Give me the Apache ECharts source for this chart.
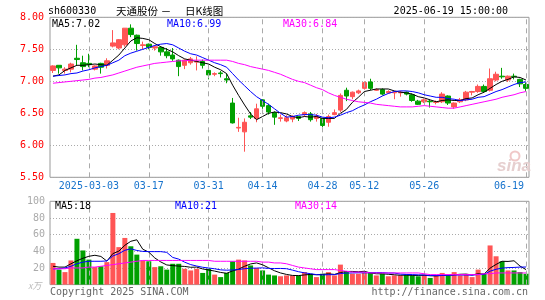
<!DOCTYPE html>
<html><head><meta charset="utf-8">
<script src="https://cdn.jsdelivr.net/npm/echarts@6.0.0/dist/echarts.min.js"></script>
<style>html,body{margin:0;padding:0;background:#fff}#c{width:545px;height:300px}</style>
</head><body><div id="c"></div>
<script>
const dates = ['2025-02-21','2025-02-24','2025-02-25','2025-02-26','2025-02-27','2025-02-28','2025-03-03','2025-03-04','2025-03-05','2025-03-06','2025-03-07','2025-03-10','2025-03-11','2025-03-12','2025-03-13','2025-03-14','2025-03-17','2025-03-18','2025-03-19','2025-03-20','2025-03-21','2025-03-24','2025-03-25','2025-03-26','2025-03-27','2025-03-28','2025-03-31','2025-04-01','2025-04-02','2025-04-03','2025-04-07','2025-04-08','2025-04-09','2025-04-10','2025-04-11','2025-04-14','2025-04-15','2025-04-16','2025-04-17','2025-04-18','2025-04-21','2025-04-22','2025-04-23','2025-04-24','2025-04-25','2025-04-28','2025-04-29','2025-04-30','2025-05-06','2025-05-07','2025-05-08','2025-05-09','2025-05-12','2025-05-13','2025-05-14','2025-05-15','2025-05-16','2025-05-19','2025-05-20','2025-05-21','2025-05-22','2025-05-23','2025-05-26','2025-05-27','2025-05-28','2025-05-29','2025-05-30','2025-06-03','2025-06-04','2025-06-05','2025-06-06','2025-06-09','2025-06-10','2025-06-11','2025-06-12','2025-06-13','2025-06-16','2025-06-17','2025-06-18','2025-06-19'];

const opens  = [7.17,7.25,7.17,7.19,7.36,7.29,7.28,7.19,7.28,7.25, 7.55,7.52,7.57,7.83,7.72,7.56,7.58,7.52,7.53,7.46, 7.41,7.33,7.25,7.29,7.30,7.31,7.17,7.11,7.13,7.04, 6.66,6.27,6.21,6.46,6.42,6.71,6.62,6.51,6.42,6.38, 6.41,6.45,6.48,6.49,6.42,6.42,6.36,6.48,6.55,6.86, 6.76,6.82,6.89,6.99,6.86,6.87,6.82,6.82,6.82,6.83, 6.79,6.69,6.68,6.69,6.67,6.68,6.77,6.60,6.68,6.71, 6.83,6.84,6.92,6.86,7.02,7.08,7.02,7.08,7.03,6.95];
const closes = [7.24,7.21,7.19,7.27,7.34,7.23,7.26,7.24,7.22,7.32, 7.60,7.65,7.83,7.73,7.59,7.57,7.53,7.54,7.46,7.40, 7.35,7.23,7.33,7.35,7.31,7.25,7.10,7.12,7.12,7.02, 6.35,6.28,6.36,6.44,6.57,6.61,6.52,6.44,6.43,6.43, 6.45,6.42,6.51,6.40,6.45,6.31,6.45,6.51,6.78,6.77, 6.83,6.85,6.98,6.89,6.87,6.80,6.84,6.83,6.83,6.80, 6.70,6.64,6.71,6.68,6.68,6.80,6.66,6.66,6.71,6.83, 6.84,6.92,6.84,7.04,7.11,7.07,7.08,7.07,6.96,6.89];
const lows   = [7.13,7.12,7.12,7.14,7.25,7.17,7.22,7.17,7.12,7.20, 7.53,7.50,7.54,7.69,7.48,7.50,7.50,7.48,7.40,7.36, 7.32,7.08,7.19,7.26,7.17,7.20,7.03,7.08,7.06,6.97, 6.34,6.21,5.90,6.41,6.36,6.57,6.48,6.32,6.37,6.36, 6.36,6.38,6.45,6.37,6.37,6.28,6.29,6.47,6.52,6.69, 6.72,6.80,6.87,6.86,6.85,6.78,6.81,6.72,6.76,6.78, 6.68,6.63,6.66,6.59,6.64,6.66,6.63,6.57,6.66,6.69, 6.78,6.82,6.82,6.84,7.00,7.04,6.99,7.03,6.91,6.85];
const highs  = [7.25,7.25,7.22,7.29,7.57,7.40,7.43,7.25,7.29,7.36, 7.80,7.66,7.83,7.89,7.73,7.62,7.59,7.56,7.55,7.52, 7.52,7.34,7.34,7.38,7.39,7.34,7.18,7.14,7.16,7.12, 6.74,6.43,6.42,6.52,6.65,6.72,6.65,6.53,6.48,6.47, 6.47,6.46,6.53,6.52,6.49,6.43,6.48,6.56,6.81,6.90, 6.84,6.87,7.00,7.04,6.89,6.89,6.86,6.84,6.85,6.84, 6.81,6.71,6.73,6.71,6.70,6.83,6.78,6.67,6.74,6.85, 6.85,6.95,6.95,7.20,7.15,7.21,7.09,7.12,7.04,6.98];

const ma5  = [7.08,7.10,7.17,7.21,7.25,7.25,7.26,7.27,7.26,7.25, 7.33,7.41,7.52,7.63,7.68,7.67,7.65,7.59,7.54,7.50, 7.46,7.40,7.35,7.33,7.31,7.29,7.27,7.22,7.18,7.12, 6.94,6.78,6.63,6.49,6.40,6.45,6.50,6.52,6.51,6.49, 6.45,6.43,6.45,6.44,6.45,6.42,6.42,6.42,6.50,6.56, 6.67,6.75,6.84,6.86,6.88,6.88,6.88,6.85,6.83,6.82, 6.80,6.76,6.74,6.71,6.68,6.70,6.71,6.70,6.70,6.73, 6.74,6.79,6.83,6.89,6.95,7.00,7.03,7.07,7.06,7.02];
const ma10 = [7.08,7.09,7.10,7.12,7.13,7.16,7.18,7.21,7.23,7.25, 7.29,7.33,7.40,7.44,7.47,7.50,7.53,7.56,7.58,7.59, 7.57,7.52,7.47,7.43,7.41,7.37,7.33,7.29,7.26,7.22, 7.12,7.02,6.93,6.84,6.76,6.70,6.64,6.57,6.50,6.44, 6.45,6.47,6.48,6.48,6.47,6.44,6.43,6.44,6.47,6.51, 6.54,6.59,6.63,6.68,6.72,6.77,6.81,6.84,6.85,6.85, 6.84,6.82,6.79,6.77,6.75,6.75,6.73,6.72,6.70,6.71, 6.72,6.75,6.76,6.80,6.84,6.87,6.91,6.95,6.98,6.99];
const ma30 = [6.97,6.98,6.99,7.00,7.01,7.02,7.03,7.05,7.06,7.08, 7.10,7.13,7.16,7.19,7.22,7.24,7.26,7.28,7.29,7.30, 7.31,7.32,7.32,7.33,7.33,7.33,7.33,7.33,7.33,7.33, 7.31,7.28,7.26,7.23,7.21,7.19,7.17,7.14,7.11,7.07, 7.03,7.00,6.98,6.94,6.90,6.87,6.82,6.78,6.75,6.72, 6.70,6.68,6.67,6.66,6.64,6.63,6.62,6.61,6.60,6.60, 6.60,6.61,6.62,6.61,6.60,6.59,6.58,6.58,6.60,6.62, 6.64,6.66,6.68,6.70,6.72,6.75,6.77,6.79,6.82,6.84];

const volumes = [26,18,15,29,55,41,30,21,22,27, 86,45,56,46,36,29,28,21,22,18, 25,25,19,17,19,14,19,12,9,14, 28,30,29,23,20,17,12,11,10,11, 11,11,15,13,9,13,15,11,24,16, 13,13,14,14,11,13,10,11,11,12, 11,10,12,8,11,14,11,15,11,12, 9,18,13,47,34,28,17,17,15,13];
const volMa5  = [22,21,21,25,28.6,31.6,34,35.2,33.8,28.2, 37.2,40.2,47.2,52,53.8,42.4,39,32,27.2,23.6, 22.8,22.2,21.8,20.8,21,18.8,17.6,16.2,14.6,13.6, 16.4,18.6,22,24.8,26,23.8,20.2,16.6,14,12.2, 11,10.8,11.6,12.2,11.8,12.2,13,12.2,14.4,15.8, 15.8,15.4,16,14,13,13,12.4,11.8,11.2,11.4, 11,11,11.2,10.6,10.4,11,11.2,11.8,12.4,12.6, 11.6,13,12.6,19.8,24.2,28,27.8,28.6,22.2,18];
const volMa10 = [19,19,20,22,25,27,28,28,28,28.4, 34.4,37.1,41.2,42.9,41,39.8,39.6,39.6,39.6,38.7, 32.6,30.6,26.9,24,22.3,20.8,19.9,19,17.7,17.3, 17.6,18.1,19.1,19.7,19.8,20.1,19.4,19.3,19.4,19.1, 17.4,15.5,14.1,13.1,12,11.6,11.9,11.9,13.3,13.8, 14,14.2,14.1,14.2,14.4,14.4,13.9,13.9,12.6,12.2, 12,11.7,11.5,10.9,10.9,11,11.1,11.5,11.5,11.5, 11.3,12.1,12.2,16.1,18.4,19.8,20.4,20.6,21,21.1];
const volMa30 = [19,19,19,20,20,20,21,21,22,23, 24,25,26,27,28,29,29,29,29,29, 29,29,29,29,29,29,29,28,28,28, 28,28,28,28,28,27,27,26,26,25, 23,21,20,19,18,18,18,18,17,16, 15,15,15,14,14,14,14,14,14,14, 14,14,13,12,12,12,12,12,12,12, 12,12,13,13,14,14,14,14,14,14];

const tickDates  = ['2025-03-03','2025-03-17','2025-03-31','2025-04-14','2025-04-28','2025-05-12','2025-05-26','2025-06-19'];
const tickLabels = ['2025-03-03','03-17','03-31','04-14','04-28','05-12','05-26','06-19'];
const priceTickLabels = ['5.50','6.00','6.50','7.00','7.50','8.00'];
const volTickLabels = ['', '20', '40', '60', '80', '100'];

const stockCode = 'sh600330';
const stockName = '天通股份';
const chartName = '日K线图';
const stamp = '2025-06-19 15:00:00';
const priceMaText = ['MA5:7.02', 'MA10:6.99', 'MA30:6.84'];
const volMaText = ['MA5:18', 'MA10:21', 'MA30:14'];

const RED = '#ff5555', GREEN = '#00a000';
const MONO = 'DejaVu Sans Mono';
const tickIdx = tickDates.map(d => dates.indexOf(d));

const chart = echarts.init(document.getElementById('c'));

const vline = {
  symbol: 'none', silent: true, animation: false,
  label: {show: false},
  lineStyle: {type: [5, 4], color: '#aaa', width: 1},
  data: tickDates.map(d => ({xAxis: d}))
};
function lineSeries(data, color, xi, yi) {
  return {type: 'line', data, xAxisIndex: xi, yAxisIndex: yi, showSymbol: false, symbol: 'none',
    lineStyle: {width: 1, color}, itemStyle: {color}, silent: true, animation: false, z: 5};
}
function txt(x, y, text, fill, align, font) {
  return {type: 'text', x, y, silent: true, z: 100,
    style: {text, fill, font: font || ('10px ' + MONO), textAlign: align || 'left', textVerticalAlign: 'middle'}};
}

chart.setOption({
  animation: false,
  backgroundColor: '#fff',
  grid: [
    {left: 50, top: 17.3, width: 479, height: 160, show: true, borderColor: '#999', borderWidth: 1},
    {left: 50, top: 201.3, width: 479, height: 83.3, show: true, borderColor: '#999', borderWidth: 1}
  ],
  xAxis: [
    {type: 'category', gridIndex: 0, data: dates, boundaryGap: true,
     axisLine: {show: false}, axisTick: {show: false}, splitLine: {show: false},
     axisLabel: {
       interval: (i) => tickIdx.indexOf(i) >= 0,
       formatter: (v) => {
         const k = tickDates.indexOf(v);
         if (k < 0) return '';
         return k === tickDates.length - 1 ? '{r|' + tickLabels[k] + '}' : tickLabels[k];
       },
       color: '#1874cd', fontFamily: MONO, fontSize: 10, margin: 4,
       rich: {r: {color: '#1874cd', fontFamily: MONO, fontSize: 10, padding: [0, 34, 0, 0]}}
     }},
    {type: 'category', gridIndex: 1, data: dates, boundaryGap: true,
     axisLine: {show: false}, axisTick: {show: false}, axisLabel: {show: false}, splitLine: {show: false}}
  ],
  yAxis: [
    {type: 'value', gridIndex: 0, min: 5.5, max: 8, interval: 0.5, scale: true,
     axisLine: {show: false}, axisTick: {show: false},
     axisLabel: {color: '#ff0000', fontFamily: MONO, fontSize: 10, margin: 6,
       formatter: (v) => priceTickLabels[Math.round((v - 5.5) / 0.5)]},
     splitLine: {show: true, lineStyle: {type: [1, 2], color: '#aaa', width: 1}}},
    {type: 'value', gridIndex: 1, min: 0, max: 100, interval: 20,
     axisLine: {show: false}, axisTick: {show: false},
     axisLabel: {color: '#aaa', fontFamily: MONO, fontSize: 10, margin: 5,
       formatter: (v) => volTickLabels[Math.round(v / 20)]},
     splitLine: {show: true, lineStyle: {type: [1, 2], color: '#aaa', width: 1}}}
  ],
  series: [
    {type: 'candlestick', xAxisIndex: 0, yAxisIndex: 0, barWidth: 5, animation: false, silent: true,
     data: opens.map((o, i) => [o, closes[i], lows[i], highs[i]]),
     itemStyle: {color: RED, color0: GREEN, borderColor: RED, borderColor0: GREEN, borderWidth: 1},
     markLine: vline, z: 3},
    lineSeries(ma5, '#000000', 0, 0),
    lineSeries(ma10, '#0000ff', 0, 0),
    lineSeries(ma30, '#ff00ff', 0, 0),
    {type: 'bar', xAxisIndex: 1, yAxisIndex: 1, barWidth: 5, animation: false, silent: true,
     data: volumes.map((v, i) => ({value: v, itemStyle: {color: closes[i] >= opens[i] ? RED : GREEN}})),
     markLine: vline, z: 3},
    lineSeries(volMa5, '#000000', 1, 1),
    lineSeries(volMa10, '#0000ff', 1, 1),
    lineSeries(volMa30, '#ff00ff', 1, 1)
  ],
  graphic: [
    txt(48, 11, stockCode, '#000'),
    txt(116, 11, stockName, '#000', 'left', '10.5px "Noto Sans CJK SC"'),
    txt(166, 11, '－', '#000', 'center', '10.5px "Noto Sans CJK SC"'),
    txt(185, 11, chartName, '#000', 'left', '10.5px "Noto Sans CJK SC"'),
    txt(508, 11, stamp, '#000', 'right'),
    txt(52, 24, priceMaText[0], '#000'),
    txt(167, 24, priceMaText[1], '#0000ff'),
    txt(283, 24, priceMaText[2], '#ff00ff'),
    txt(55, 206, volMaText[0], '#000'),
    txt(175, 206, volMaText[1], '#0000ff'),
    txt(295, 206, volMaText[2], '#ff00ff'),
    txt(28, 286, 'x万', '#bbb', 'left', 'italic 9px "Noto Sans CJK SC"'),
    txt(50, 292.5, 'Copyright 2025 SINA.COM', '#666'),
    txt(528, 292.5, 'http://finance.sina.com.cn', '#666', 'right'),
    {type: 'circle', shape: {cx: 515, cy: 156, r: 4.5}, silent: true, z: 1,
     style: {fill: 'none', stroke: '#f0c8c8', lineWidth: 2}},
    txt(497, 166, 'sina', '#e6cfcf', 'left', 'italic bold 17px "Liberation Sans"')
  ]
});
</script>
</body></html>
